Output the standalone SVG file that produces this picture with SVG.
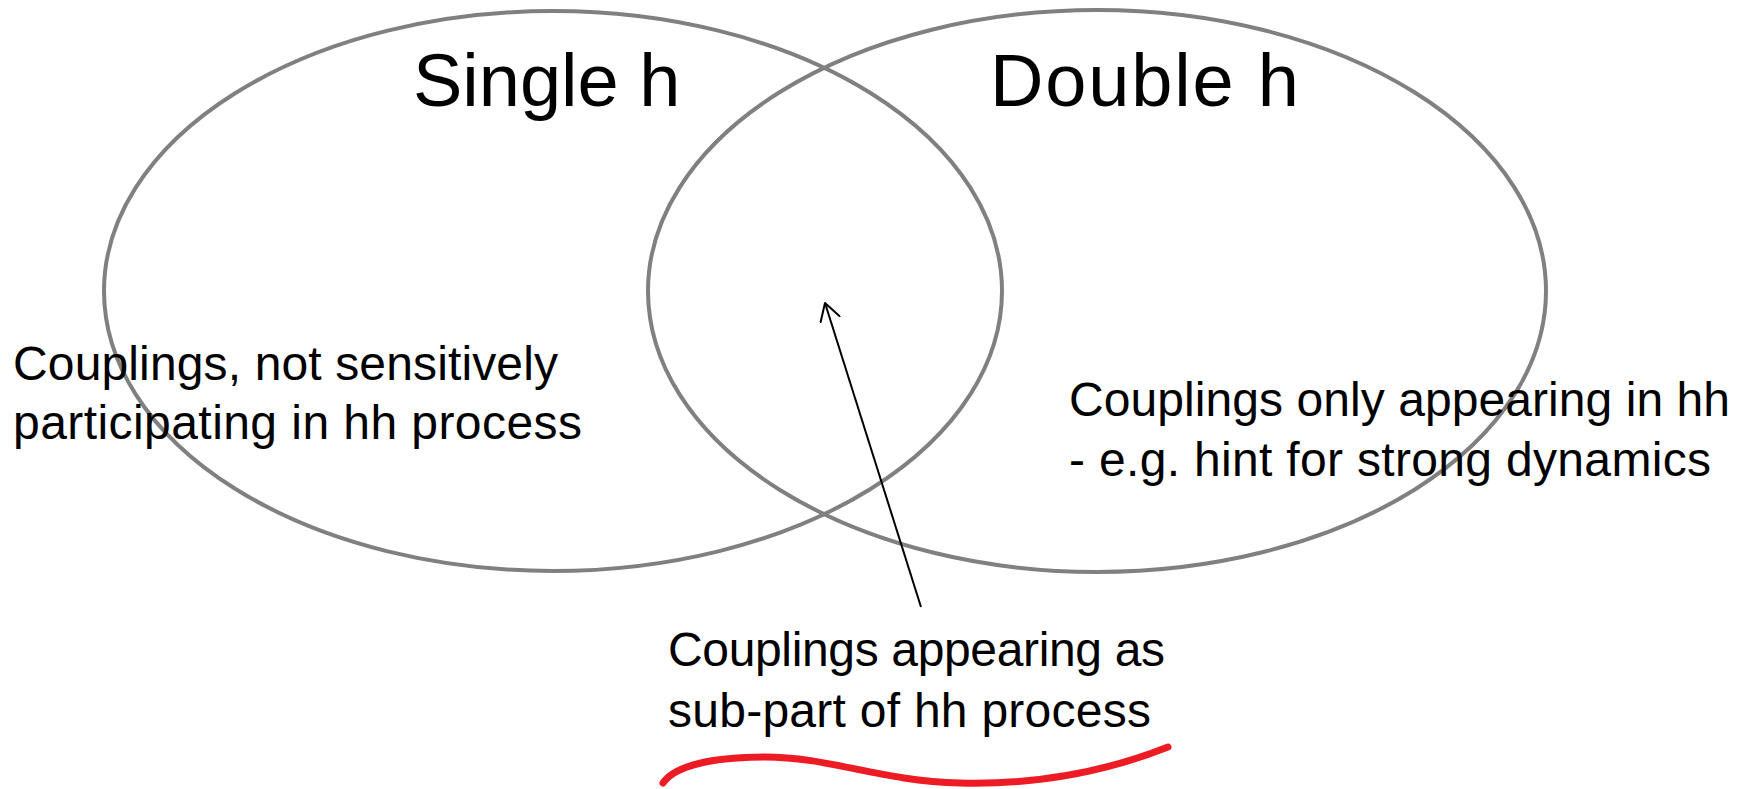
<svg xmlns="http://www.w3.org/2000/svg" width="1752" height="789" viewBox="0 0 1752 789">
  <style>
    .set { fill: none; stroke: #808080; stroke-width: 4; }
    .title { font-family: "Liberation Sans", Arial, sans-serif; font-size: 74px; fill: #000; }
    .lbl { font-family: "Liberation Sans", Arial, sans-serif; font-size: 48px; fill: #000; }
    .conn { fill: none; stroke: #000; stroke-width: 2; }
  </style>
  <defs>
    <marker id="open" viewBox="0 0 20 22" refX="18" refY="11" markerWidth="20" markerHeight="22" markerUnits="userSpaceOnUse" orient="auto">
      <path d="M1,1 L18,11 L1,21" fill="none" stroke="#000" stroke-width="2" stroke-linejoin="round" stroke-linecap="round"/>
    </marker>
  </defs>
  <rect width="1752" height="789" fill="#fff"/>
  <g id="single-h">
    <ellipse class="set" cx="553" cy="291" rx="449" ry="280"/>
    <text class="title" x="413" y="106">Single h</text>
  </g>
  <g id="double-h">
    <ellipse class="set" cx="1097" cy="291" rx="449" ry="281"/>
    <text class="title" x="990" y="106" textLength="309">Double h</text>
  </g>
  <g id="label-single">
    <text class="lbl" x="13" y="380" textLength="545">Couplings, not sensitively</text>
    <text class="lbl" x="13" y="439" textLength="569">participating in hh process</text>
  </g>
  <g id="label-double">
    <text class="lbl" x="1069" y="416" textLength="661">Couplings only appearing in hh</text>
    <text class="lbl" x="1069" y="476" textLength="642">- e.g. hint for strong dynamics</text>
  </g>
  <g id="label-overlap">
    <text class="lbl" x="668" y="666" textLength="497">Couplings appearing as</text>
    <text class="lbl" x="668" y="727" textLength="483">sub-part of hh process</text>
    <path d="M 663 783 C 675 765, 715 757, 765 757 C 830 757, 880 781, 960 783 C 1040 785, 1110 770, 1168 747" fill="none" stroke="#ed1c24" stroke-width="7" stroke-linecap="round"/>
  </g>
  <g id="connectors">
    <line class="conn" x1="921" y1="607" x2="825" y2="303" marker-end="url(#open)"/>
  </g>
</svg>
